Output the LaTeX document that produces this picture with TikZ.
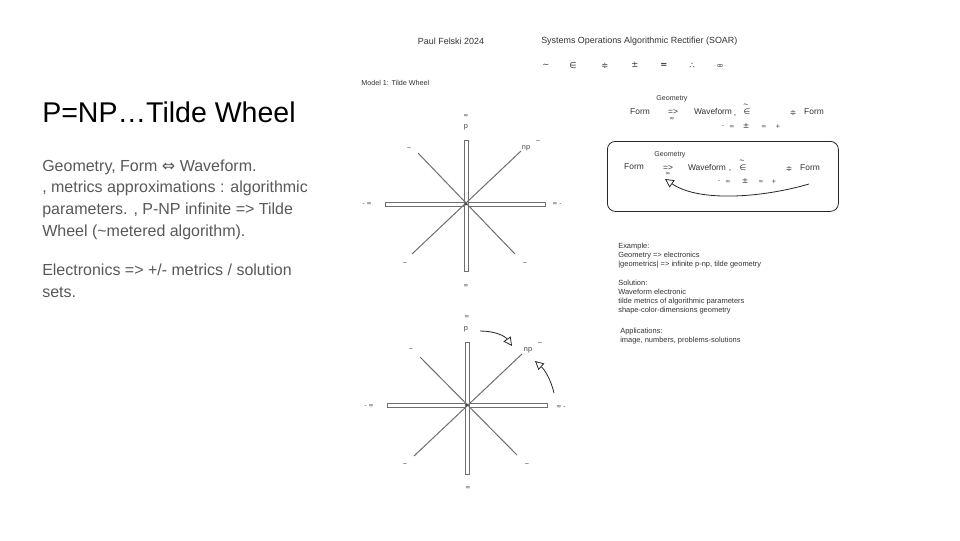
\documentclass[tikz,border=0pt]{standalone}
\usepackage{fontspec}
\setmainfont{Liberation Sans}
\newfontfamily\dv{DejaVu Sans}
\usetikzlibrary{arrows.meta,calc}
\definecolor{bodygray}{HTML}{595959}
\definecolor{hdrgray}{HTML}{333333}
\definecolor{labgray}{HTML}{444444}
\definecolor{linegray}{HTML}{6E6E6E}
\begin{document}
\begin{tikzpicture}[x=0.75pt,y=-0.75pt,
 ttl/.style={anchor=base west, inner sep=0, font=\fontsize{21.4}{24}\selectfont, text=black},
 body/.style={anchor=base west, inner sep=0, font=\fontsize{12}{14}\selectfont, text=bodygray},
 hdr/.style={inner sep=0, font=\fontsize{6.7}{8}\selectfont, text=hdrgray},
 symb/.style={inner sep=0, font=\dv\fontsize{6.3}{8}\selectfont, text=hdrgray},
 small/.style={anchor=base west, inner sep=0, font=\fontsize{5.6}{6.8}\selectfont, text=hdrgray},
 fm/.style={inner sep=0, font=\fontsize{6.3}{8}\selectfont, text=hdrgray},
 fsym/.style={inner sep=0, font=\dv\fontsize{5.8}{7}\selectfont, text=hdrgray},
 ftil/.style={inner sep=0, font=\fontsize{6.5}{7}\selectfont, text=hdrgray},
 geo/.style={inner sep=0, font=\fontsize{5.3}{7}\selectfont, text=hdrgray},
 wl/.style={inner sep=0, font=\fontsize{5.5}{7}\selectfont, text=labgray},
 winf/.style={inner sep=0, font=\dv\fontsize{4.6}{5}\selectfont, text=labgray},
 barbox/.style={draw=linegray, line width=0.55pt, fill=white},
 diag/.style={draw=linegray, line width=0.75pt},
 arr/.style={draw=black!85, line width=0.6pt, -{Triangle[open, length=6.5pt, width=6.5pt]}},
 rbox/.style={draw=black!85, line width=0.6pt, rounded corners=6pt}
]
\useasboundingbox[fill=white] (0,0) rectangle (960,540);

% ---- left text ----
\node[ttl] (title) at (42,122) {P=NP\ldots Tilde Wheel};
\node[body] (b1) at (42,171) {Geometry, Form {\dv ⇔} Waveform.};
\node[body] (b2) at (42,192.5) {, metrics approximations : algorithmic};
\node[body] (b3) at (42,214) {parameters. , P-NP infinite => Tilde};
\node[body] (b4) at (42,236) {Wheel (\textasciitilde metered algorithm).};
\node[body] (b5) at (42,275) {Electronics => +/- metrics / solution};
\node[body] (b6) at (42,297) {sets.};

% ---- header ----
\node[hdr] (author) at (451,41) {Paul Felski 2024};
\node[hdr,anchor=west] (soar) at (541,41) {Systems Operations Algorithmic Rectifier (SOAR)};
\node[symb] (s1) at (546,66) {\textasciitilde};
\node[symb] (s2) at (573,66) {∈};
\node[symb] (s3) at (605,66) {≑};
\node[symb] (s4) at (635,65) {±};
\node[symb] (s5) at (664,65) {\textbf{=}};
\node[symb] (s6) at (692,66) {∴};
\node[symb] (s7) at (720,66) {∞};
\node[inner sep=0, anchor=west, font=\fontsize{5.4}{6}\selectfont, text=hdrgray] (model) at (361,83) {Model 1: Tilde Wheel};

% ---- wheel 1 ----
\coordinate (c1) at (466,204);
\coordinate (t1) at (466,140);
\coordinate (d1) at (466,271);
\coordinate (l1) at (385,204);
\coordinate (r1) at (545,204);
\coordinate (ul1) at (418,153);
\coordinate (lr1) at (515,254);
\coordinate (ur1) at (521,151);
\coordinate (ll1) at (412,254);
\draw[barbox] ($(l1)+(0,-2)$) rectangle ($(r1)+(0,2)$);
\draw[barbox] ($(t1)+(-2,0)$) rectangle ($(d1)+(2,0)$);
\draw[diag] (ul1) -- (lr1);
\draw[diag] (ur1) -- (ll1);
\fill[linegray!70!black] (c1) circle (1.6);
\node[winf] (w1inft) at (466,116) {∞};
\node[wl] (w1p) at (466,127) {p};
\node[wl] (w1np) at (526,148) {np};
\node[wl] (w1tur) at (538,142) {\textasciitilde};
\node[wl] (w1tul) at (409,149) {\textasciitilde};
\node[winf] (w1l) at (367,204) {- ∞};
\node[winf] (w1r) at (557,204) {∞ -};
\node[wl] (w1tll) at (405,264) {\textasciitilde};
\node[wl] (w1tlr) at (525,264) {\textasciitilde};
\node[winf] (w1infb) at (466,286) {∞};

% ---- wheel 2 ----
\coordinate (c2) at (467,405);
\coordinate (t2) at (467,342);
\coordinate (d2) at (467,474);
\coordinate (l2) at (387,405);
\coordinate (r2) at (547,405);
\coordinate (ul2) at (420,357);
\coordinate (lr2) at (517,455);
\coordinate (ur2) at (522,354);
\coordinate (ll2) at (414,456);
\draw[barbox] ($(l2)+(0,-2)$) rectangle ($(r2)+(0,2)$);
\draw[barbox] ($(t2)+(-2,0)$) rectangle ($(d2)+(2,0)$);
\draw[diag] (ul2) -- (lr2);
\draw[diag] (ur2) -- (ll2);
\fill[linegray!70!black] (c2) circle (1.6);
\node[winf] (w2inft) at (467,317) {∞};
\node[wl] (w2p) at (466,329) {p};
\node[wl] (w2np) at (528,350) {np};
\node[wl] (w2tur) at (540,344) {\textasciitilde};
\node[wl] (w2tul) at (411,350) {\textasciitilde};
\node[winf] (w2l) at (369,406) {- ∞};
\node[winf] (w2r) at (561,407) {∞ -};
\node[wl] (w2tll) at (405,465) {\textasciitilde};
\node[wl] (w2tlr) at (527,465) {\textasciitilde};
\node[winf] (w2infb) at (468,488) {∞};
\coordinate (a1s) at (480,331);
\coordinate (a1e) at (512,346);
\coordinate (a2s) at (554,393);
\coordinate (a2e) at (535,361);
\draw[arr] (a1s) .. controls (495,331) and (505,336) .. (a1e);
\draw[arr] (a2s) .. controls (551,380) and (545,370) .. (a2e);

% ---- formula 1 ----
\node[geo] (g1) at (672,99) {Geometry};
\node[fm] (f1a) at (640,112) {Form};
\node[fm] (f1imp) at (673,112) {=>};
\node[winf] (f1inf) at (672,119) {∞};
\node[fm] (f1w) at (713,111.5) {Waveform};
\node[fm, anchor=base] (f1c) at (735,115) {,};
\node[fsym] (f1el) at (747,112) {∈};
\node[ftil] (f1tl) at (746,105.5) {\textasciitilde};
\node[fsym] (f1dot) at (793,113) {≑};
\node[fm] (f1b) at (814,112) {Form};
\node[winf] (f1r1) at (723,127) {-};
\node[winf] (f1r2) at (732,127) {∞};
\node[fsym] (f1r3) at (746,126.5) {±};
\node[winf] (f1r4) at (764,127) {∞};
\node[winf] (f1r5) at (778,127) {+};

% ---- formula 2 (boxed) ----
\node[rbox, minimum width=173.25pt, minimum height=52.5pt, anchor=north west] (box) at (607,141) {};
\node[geo] (g2) at (670,155) {Geometry};
\node[fm] (f2a) at (634,167) {Form};
\node[fm] (f2imp) at (668,168) {=>};
\node[winf] (f2inf) at (668,174) {∞};
\node[fm] (f2w) at (707,167) {Waveform};
\node[fm, anchor=base] (f2c) at (730,170.5) {,};
\node[fsym] (f2el) at (743,168) {∈};
\node[ftil] (f2tl) at (742,161.5) {\textasciitilde};
\node[fsym] (f2dot) at (789,169) {≑};
\node[fm] (f2b) at (810,168) {Form};
\node[winf] (f2r1) at (719,182) {-};
\node[winf] (f2r2) at (728,182) {∞};
\node[fsym] (f2r3) at (745,181.5) {±};
\node[winf] (f2r4) at (761,182) {∞};
\node[winf] (f2r5) at (774,182) {+};
\coordinate (b2s) at (809,184);
\coordinate (b2e) at (665,179);
\draw[arr] (b2s) .. controls (765,197) and (700,203) .. (b2e);

% ---- notes ----
\node[small] (n1) at (618,248) {Example:};
\node[small] (n2) at (618,257.5) {Geometry => electronics};
\node[small] (n3) at (618,266.5) {|geometrics| => infinite p-np, tilde geometry};
\node[small] (n4) at (618,285.5) {Solution:};
\node[small] (n5) at (618,294.5) {Waveform electronic};
\node[small] (n6) at (618,303.5) {tilde metrics of algorithmic parameters};
\node[small] (n7) at (618,312.5) {shape-color-dimensions geometry};
\node[small] (n8) at (620,333.5) {Applications:};
\node[small] (n9) at (620,342.5) {image, numbers, problems-solutions};
\end{tikzpicture}
\end{document}
